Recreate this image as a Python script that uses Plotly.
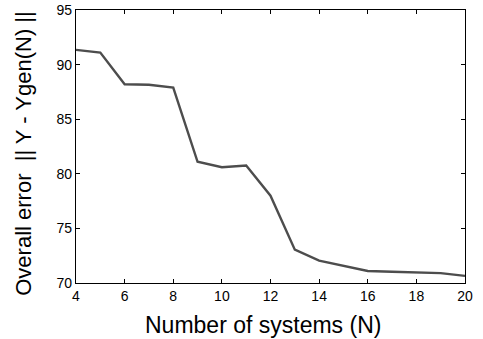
import plotly.graph_objects as go

n_systems = [4, 5, 6, 7, 8, 9, 10, 11, 12, 13, 14, 15, 16, 17, 18, 19, 20]
overall_error = [91.35, 91.1, 88.2, 88.15, 87.9, 81.1, 80.6, 80.75, 78.0, 73.05, 72.05, 71.55, 71.1, 71.03, 70.97, 70.9, 70.65]
x_ticks = [4, 6, 8, 10, 12, 14, 16, 18, 20]
y_ticks = [70, 75, 80, 85, 90, 95]
x_title = "Number of systems (N)"
y_title = "Overall error  || Y - Ygen(N) ||"

FONT = "Liberation Sans, Arial, sans-serif"

fig = go.Figure()
fig.add_trace(go.Scatter(x=n_systems, y=overall_error, mode="lines",
                         line=dict(color="#4d4d4d", width=2.4), showlegend=False,
                         hoverinfo="skip"))

axis_common = dict(showgrid=False, zeroline=False, showline=True, linecolor="black",
                   linewidth=1.3, mirror="ticks", ticks="inside", ticklen=4,
                   tickcolor="black", automargin=False,
                   tickfont=dict(family=FONT, size=14, color="black"))

fig.update_xaxes(range=[4, 20], tickvals=x_ticks, **axis_common)
fig.update_yaxes(range=[70, 95], tickvals=y_ticks, **axis_common)

fig.add_annotation(text=x_title, xref="paper", yref="paper", x=0.482, y=-0.154,
                   xanchor="center", yanchor="middle", showarrow=False,
                   font=dict(family=FONT, size=23, color="black"))
fig.add_annotation(text=y_title, xref="paper", yref="paper", x=-0.137, y=0.476,
                   xanchor="center", yanchor="middle", showarrow=False, textangle=-90,
                   font=dict(family=FONT, size=22, color="black"))

fig.update_layout(width=483, height=339, margin=dict(l=76, r=18, t=10, b=56),
                  plot_bgcolor="white", paper_bgcolor="white")

fig.write_html("out.html", config={"displayModeBar": False},
               post_script="document.body.style.margin='0';document.body.style.overflow='hidden';")
